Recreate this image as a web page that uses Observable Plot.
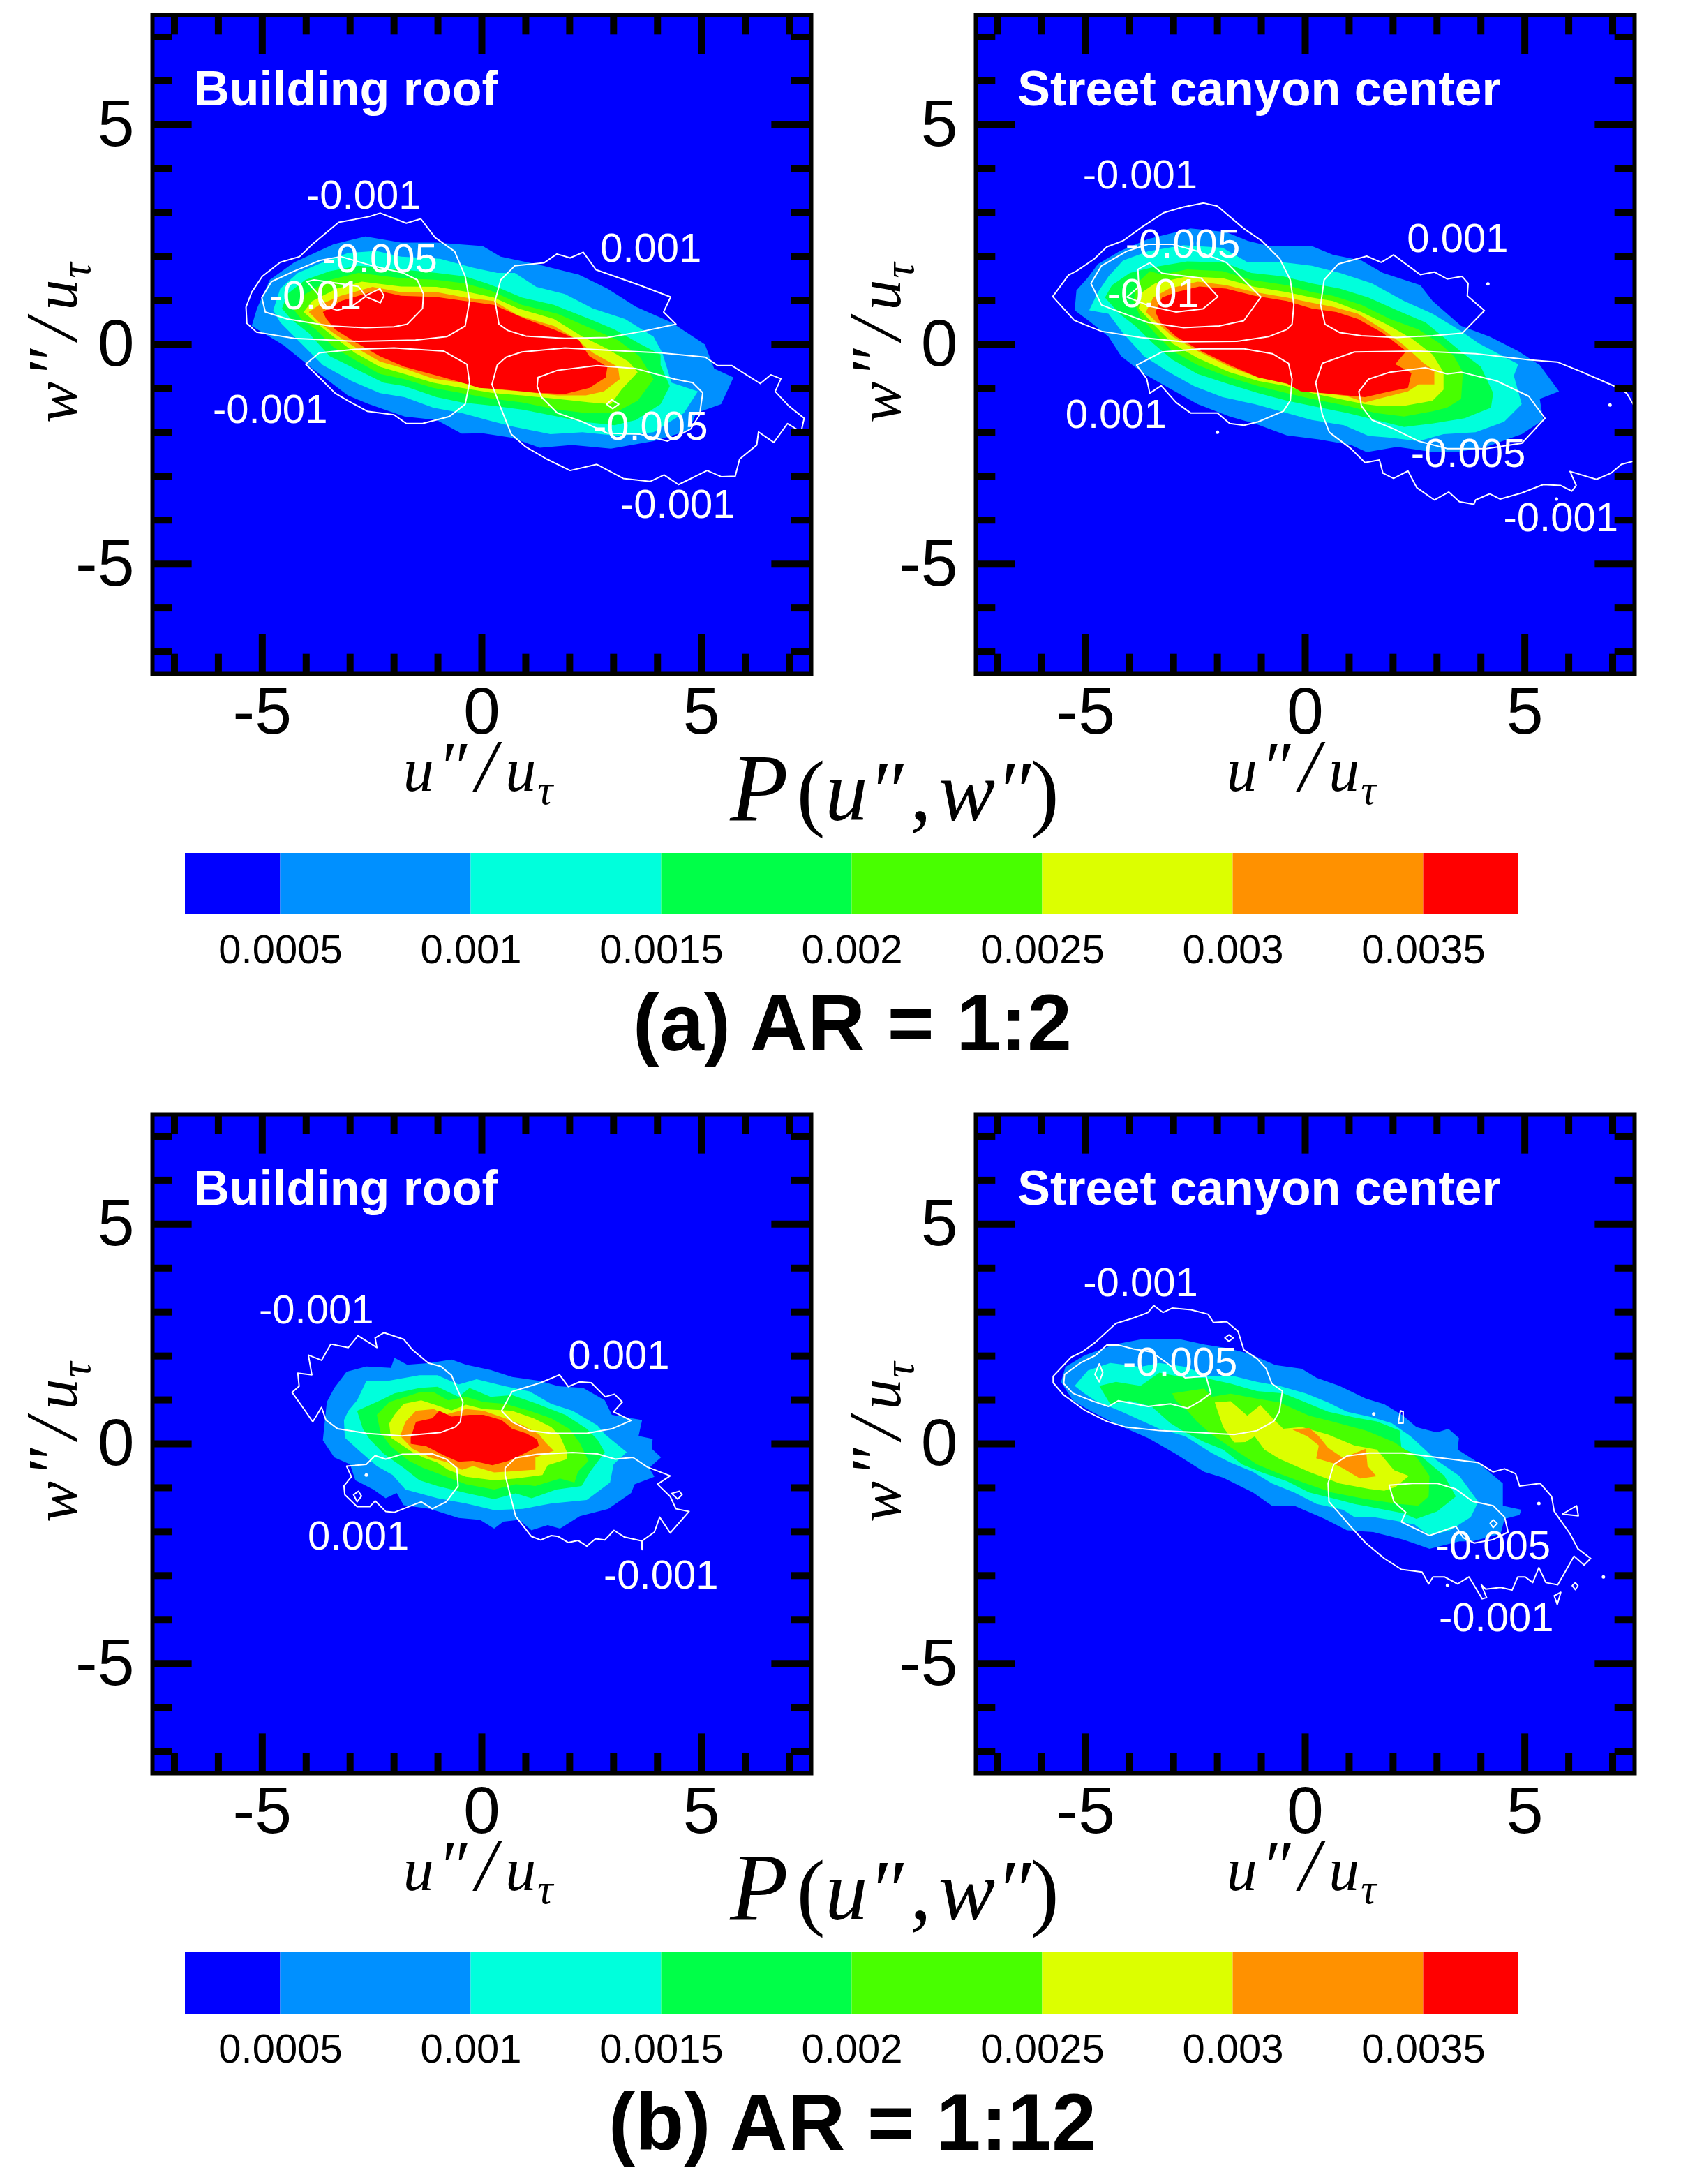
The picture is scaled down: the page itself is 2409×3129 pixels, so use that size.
<!DOCTYPE html>
<html>
<head>
<meta charset="utf-8">
<script src="https://cdn.jsdelivr.net/npm/d3@7"></script>
<script src="https://cdn.jsdelivr.net/npm/@observablehq/plot@0.6"></script>
<style>
  html, body { margin: 0; background: white; }
  #page { position: relative; width: 2409px; height: 3129px; overflow: hidden; font-family: "Liberation Sans", sans-serif; color: black; }
  #page > div { position: absolute; }
  .math { font-family: "Liberation Serif", serif; white-space: nowrap; text-align: center; }
  .math sub { font-size: 70%; line-height: 0; margin-left: 2px; }
  .math .pr { font-size: 115%; margin-left: 5px; line-height: 0; }
  .math .sl { font-size: 120%; margin: 0 13px; line-height: 0; }
  .caption { left: 0; width: 2443px; text-align: center; font-weight: bold; font-size: 114.5px; line-height: 112px; }
</style>
</head>
<body>
<div id="page"></div>
<script>
// colour levels of P(u'',w'')
const levels = [0.00025, 0.0005, 0.001, 0.0015, 0.002, 0.0025, 0.003, 0.0035, 0.00375];
const levelColors = ["#0000ff", "#0090ff", "#00ffdc", "#00ff48", "#48ff00", "#dcff00", "#ff9100", "#ff0000"];
const barTicks = [0.0005, 0.001, 0.0015, 0.002, 0.0025, 0.003, 0.0035];
const majorTicks = [-5, 0, 5];
const minorTicks = [-7, -6, -4, -3, -2, -1, 1, 2, 3, 4, 6, 7];

// (a) AR = 1:2, building roof
const aRoof1 = [[-5.24,0.42],[-5.12,0.82],[-4.83,1.47],[-4.27,1.87],[-3.38,2.28],[-2.65,2.46],[-1.84,2.32],[-1.03,2.32],[0.02,2.24],[0.43,2.0],[1.24,1.83],[2.21,1.59],[2.86,1.27],[3.51,0.86],[4.32,0.5],[5.08,0],[5.29,-0.55],[5.73,-0.75],[5.45,-1.36],[4.88,-1.56],[4.72,-1.96],[3.91,-2.2],[2.94,-2.37],[2.05,-2.29],[1.32,-2.35],[0.67,-2.12],[0.02,-2.02],[-0.46,-2.03],[-1.03,-1.72],[-1.76,-1.64],[-2.57,-1.36],[-3.05,-1.16],[-3.86,-0.55],[-4.51,-0.02]];
const aRoof2 = [[-4.75,0.78],[-4.59,1.27],[-4.19,1.63],[-3.62,1.87],[-3.05,2.08],[-2.4,2.13],[-1.84,2.0],[-0.95,1.95],[-0.22,1.75],[0.35,1.63],[0.75,1.63],[1.24,1.31],[1.89,1.15],[2.53,0.82],[3.26,0.58],[3.91,0.18],[4.11,-0.19],[4.32,-0.87],[4.92,-1.07],[4.6,-1.56],[3.91,-2.0],[3.1,-2.08],[2.29,-2.0],[1.56,-2.04],[0.75,-1.88],[0.27,-1.76],[-0.46,-1.56],[-1.11,-1.44],[-1.76,-1.2],[-2.32,-1.11],[-2.97,-0.83],[-3.62,-0.47],[-4.19,0.1],[-4.59,0.5]];
const aRoof3 = [[-4.55,0.82],[-4.43,1.15],[-4.02,1.47],[-3.46,1.67],[-2.81,1.79],[-1.84,1.71],[-1.03,1.63],[-0.38,1.55],[0.11,1.39],[0.43,1.27],[0.91,1.07],[1.64,0.9],[2.45,0.58],[3.02,0.34],[3.59,0.02],[4.07,-0.23],[4.07,-0.47],[4.28,-0.95],[4.07,-1.36],[3.51,-1.72],[3.02,-1.84],[2.29,-1.76],[1.72,-1.64],[0.91,-1.48],[0.27,-1.4],[-0.46,-1.32],[-1.03,-1.2],[-1.76,-0.95],[-2.24,-0.87],[-2.89,-0.55],[-3.46,-0.27],[-3.94,0.26],[-4.35,0.58]];
const aRoof4 = [[-4.27,0.78],[-4.02,1.15],[-3.46,1.47],[-2.81,1.63],[-1.84,1.51],[-1.03,1.47],[-0.38,1.39],[0.19,1.23],[0.91,0.9],[1.72,0.7],[2.45,0.38],[3.1,0.1],[3.59,-0.27],[3.91,-0.79],[3.55,-1.28],[3.02,-1.56],[2.37,-1.56],[1.72,-1.48],[0.91,-1.32],[0.27,-1.24],[-0.46,-1.11],[-1.11,-0.99],[-1.76,-0.79],[-2.32,-0.67],[-2.89,-0.35],[-3.38,-0.06],[-3.78,0.34],[-4.11,0.58]];
const aRoof5 = [[-4.06,0.74],[-3.86,0.99],[-3.3,1.27],[-2.73,1.43],[-1.84,1.32],[-1.03,1.31],[-0.3,1.19],[0.27,1.07],[0.83,0.82],[1.64,0.58],[2.29,0.18],[2.86,-0.1],[3.34,-0.39],[3.55,-0.63],[3.18,-1.03],[2.94,-1.36],[2.45,-1.32],[1.72,-1.24],[0.91,-1.16],[0.27,-1.11],[-0.46,-0.99],[-1.11,-0.87],[-1.76,-0.67],[-2.32,-0.51],[-2.89,-0.19],[-3.38,0.18],[-3.78,0.5]];
const aRoof6 = [[-3.94,0.74],[-3.7,0.9],[-3.21,1.11],[-2.49,1.31],[-1.84,1.19],[-1.03,1.19],[-0.38,1.07],[0.27,0.99],[0.83,0.66],[1.64,0.42],[2.13,0.14],[2.53,-0.19],[3.1,-0.51],[3.14,-0.79],[2.78,-1.07],[2.37,-1.16],[1.72,-1.16],[0.91,-1.07],[0.27,-1.02],[-0.46,-0.87],[-1.11,-0.78],[-1.76,-0.55],[-2.32,-0.39],[-2.89,-0.06],[-3.38,0.26],[-3.7,0.5]];
const aRoof7 = [[-3.62,0.74],[-3.21,0.99],[-2.4,1.23],[-1.84,1.11],[-1.03,1.08],[-0.38,0.99],[0.27,0.9],[1.0,0.58],[1.64,0.34],[2.21,0.1],[2.45,-0.27],[2.86,-0.51],[2.82,-0.75],[2.45,-0.99],[1.89,-1.13],[1.24,-1.1],[0.43,-1.02],[-0.06,-0.99],[-0.38,-0.89],[-0.87,-0.75],[-1.76,-0.51],[-2.32,-0.27],[-2.89,0.06],[-3.34,0.34],[-3.54,0.58]];
const aRoofLine1 = [[-0.38,0.42],[-0.28,0.99],[-0.38,1.55],[-0.62,2.12],[-1.07,2.44],[-1.39,2.86],[-1.72,2.76],[-2.31,2.99],[-2.57,2.91],[-3.26,2.78],[-3.86,2.28],[-4.15,2.0],[-4.59,1.87],[-5.0,1.55],[-5.24,1.19],[-5.37,0.85],[-5.35,0.48],[-5.13,0.28],[-4.27,0.14],[-2.81,0.07],[-1.51,0.1],[-0.79,0.18]];
const aRoofLine2 = [[-2.0,0.4],[-1.7,0.46],[-1.35,0.82],[-1.33,1.15],[-1.47,1.47],[-1.8,1.63],[-2.49,1.79],[-3.21,2.0],[-3.7,1.91],[-4.27,1.67],[-4.79,1.43],[-5.01,1.07],[-4.93,0.74],[-4.43,0.58],[-3.46,0.42],[-2.65,0.38]];
const aRoofLine3 = [[-3.98,1.43],[-3.82,1.47],[-3.26,1.39],[-2.81,1.32],[-2.65,1.11],[-2.32,1.27],[-2.23,1.11],[-2.31,0.95],[-2.65,1.09],[-2.97,0.86],[-3.3,0.78],[-3.54,0.86],[-3.7,1.11]];
const aRoofLine4 = [[-4.01,-0.45],[-3.7,-0.19],[-2.89,-0.11],[-2.0,-0.08],[-0.87,-0.15],[-0.34,-0.45],[-0.28,-0.87],[-0.38,-1.36],[-0.74,-1.64],[-1.35,-1.8],[-1.72,-1.8],[-2.0,-1.6],[-2.61,-1.52],[-3.05,-1.28],[-3.34,-1.11],[-3.66,-0.79]];
const aRoofLine5 = [[0.39,0.46],[0.3,0.99],[0.43,1.47],[0.75,1.79],[1.42,1.86],[1.71,2.06],[2.01,1.97],[2.31,2.1],[2.6,1.7],[3.59,1.35],[4.3,1.08],[4.14,0.74],[4.42,0.46],[3.67,0.3],[2.86,0.16],[1.89,0.14],[1.0,0.19],[0.59,0.32]];
const aRoofLine6 = [[0.35,-0.47],[0.23,-0.91],[0.43,-1.44],[0.67,-2.04],[1.0,-2.33],[1.48,-2.61],[2.01,-2.87],[2.62,-2.73],[3.22,-3.05],[3.83,-3.12],[4.15,-2.97],[4.48,-3.19],[5.13,-2.87],[5.45,-3.01],[5.77,-3.0],[5.87,-2.61],[6.26,-2.29],[6.3,-1.99],[6.65,-2.23],[6.96,-1.8],[7.27,-1.99],[7.34,-1.68],[6.99,-1.4],[6.68,-1.07],[6.81,-0.78],[6.58,-0.69],[6.34,-0.89],[5.69,-0.48],[5.37,-0.48],[5.09,-0.29],[4.07,-0.19],[2.86,-0.13],[1.89,-0.08],[0.91,-0.17],[0.55,-0.29]];
const aRoofLine7 = [[1.28,-0.75],[1.72,-0.59],[2.62,-0.48],[3.51,-0.55],[4.4,-0.79],[4.8,-0.87],[5.03,-1.1],[4.96,-1.6],[4.76,-1.92],[4.23,-2.2],[3.59,-2.04],[2.86,-2.02],[2.29,-1.76],[1.72,-1.56],[1.36,-1.2],[1.26,-0.95]];
const aRoofLine8 = [[2.84,-1.36],[2.96,-1.26],[3.12,-1.36],[2.98,-1.46]];
const aRoofLabels = [[-2.69,3.39,"-0.001"],[-2.32,1.94,"-0.005"],[-3.79,1.09,"-0.01"],[3.85,2.18,"0.001"],[-4.82,-1.49,"-0.001"],[3.84,-1.88,"-0.005"],[4.46,-3.66,"-0.001"]];

// (a) AR = 1:2, street canyon center
const aCanyon1 = [[-5.25,0.78],[-5.21,1.23],[-4.96,1.51],[-4.72,1.83],[-4.23,2.12],[-3.58,2.4],[-2.61,2.64],[-1.8,2.56],[-1.31,2.36],[-0.83,2.24],[0.15,2.24],[0.63,2.04],[1.28,1.91],[1.77,1.63],[2.62,1.35],[2.9,0.99],[3.55,0.42],[4.2,0.18],[4.85,-0.15],[5.34,-0.47],[5.78,-1.07],[5.34,-1.24],[5.42,-1.72],[4.93,-2.04],[4.12,-2.33],[3.47,-2.45],[2.9,-2.45],[2.09,-2.33],[1.4,-2.45],[1.04,-2.29],[0.31,-2.16],[-0.42,-2.07],[-1.15,-1.8],[-1.72,-1.64],[-2.45,-1.36],[-3.18,-0.95],[-3.67,-0.67],[-4.19,-0.27],[-4.48,0.18],[-4.88,0.5]];
const aCanyon2 = [[-4.92,0.78],[-4.72,1.19],[-4.48,1.55],[-4.15,1.91],[-3.58,2.12],[-2.77,2.26],[-1.88,2.2],[-1.31,1.87],[-0.5,1.87],[0.15,1.79],[0.79,1.63],[1.52,1.39],[2.25,0.99],[2.9,0.7],[3.55,0.3],[3.96,0.02],[4.85,-0.45],[4.75,-0.71],[4.93,-1.36],[4.53,-1.76],[3.88,-2.0],[3.15,-2.04],[2.58,-2.2],[1.93,-2.12],[1.44,-2.08],[0.88,-1.84],[0.15,-1.72],[-0.42,-1.56],[-1.15,-1.36],[-1.88,-1.2],[-2.53,-0.95],[-3.1,-0.63],[-3.67,-0.27],[-4.15,0.26],[-4.48,0.7]];
const aCanyon3 = [[-4.56,1.07],[-4.4,1.35],[-3.99,1.63],[-3.5,1.75],[-2.69,1.89],[-1.88,1.87],[-1.23,1.63],[-0.5,1.55],[0.15,1.39],[0.79,1.27],[1.44,1.07],[2.09,0.78],[2.74,0.5],[3.23,0.1],[3.63,-0.23],[4.0,-0.51],[4.28,-1.11],[4.23,-1.44],[3.63,-1.68],[2.9,-1.8],[2.25,-1.88],[1.61,-1.72],[0.96,-1.56],[0.15,-1.4],[-0.42,-1.28],[-1.07,-1.11],[-1.72,-0.91],[-2.45,-0.67],[-3.02,-0.35],[-3.46,0.02],[-3.87,0.42],[-4.23,0.7]];
const aCanyon4 = [[-3.91,0.99],[-3.83,1.39],[-3.54,1.67],[-3.26,1.59],[-2.69,1.71],[-1.88,1.67],[-1.23,1.47],[-0.42,1.35],[0.15,1.19],[0.63,1.11],[1.28,0.9],[1.93,0.58],[2.58,0.34],[3.07,0.02],[3.39,-0.27],[3.59,-0.63],[3.55,-1.24],[3.23,-1.44],[2.9,-1.52],[2.25,-1.64],[1.61,-1.56],[0.96,-1.4],[0.15,-1.24],[-0.42,-1.11],[-1.07,-0.95],[-1.72,-0.75],[-2.45,-0.47],[-3.02,-0.15],[-3.42,0.26],[-3.75,0.62]];
const aCanyon5 = [[-3.79,0.82],[-3.71,1.19],[-3.42,1.39],[-2.69,1.55],[-1.88,1.51],[-1.15,1.31],[-0.42,1.19],[0.15,1.07],[0.63,0.99],[1.28,0.74],[1.85,0.46],[2.42,0.14],[2.9,-0.23],[3.15,-0.63],[3.15,-1.03],[2.9,-1.28],[2.25,-1.4],[1.69,-1.4],[1.36,-1.36],[0.96,-1.28],[0.15,-1.11],[-0.42,-0.95],[-1.07,-0.83],[-1.72,-0.63],[-2.45,-0.31],[-3.02,0.02],[-3.42,0.42]];
const aCanyon6 = [[-3.63,0.74],[-3.46,1.07],[-3.1,1.27],[-2.45,1.43],[-1.8,1.35],[-1.15,1.19],[-0.42,1.07],[0.15,0.95],[0.63,0.86],[1.2,0.7],[1.77,0.34],[2.25,-0.02],[2.7,-0.43],[2.94,-0.59],[2.94,-0.91],[2.58,-0.91],[2.34,-1.07],[1.77,-1.21],[1.36,-1.32],[0.96,-1.18],[0.15,-1.07],[-0.34,-0.91],[-1.07,-0.75],[-1.72,-0.51],[-2.45,-0.15],[-3.02,0.18],[-3.38,0.5]];
const aCanyon7 = [[-3.41,0.74],[-3.26,1.07],[-2.94,1.19],[-2.41,1.32],[-1.8,1.27],[-1.15,1.11],[-0.42,0.99],[0.15,0.82],[0.71,0.74],[1.2,0.58],[1.77,0.26],[2.3,-0.15],[2.05,-0.45],[2.42,-0.65],[2.34,-0.99],[1.93,-1.07],[1.36,-1.2],[0.63,-1.13],[-0.1,-1.07],[-0.42,-0.89],[-1.07,-0.75],[-1.72,-0.47],[-2.37,-0.15],[-2.94,0.18],[-3.3,0.5]];
const aCanyonLine1 = [[-0.3,0.46],[-0.26,0.9],[-0.34,1.47],[-0.58,1.95],[-0.99,2.36],[-1.4,2.64],[-2.0,3.15],[-2.31,3.22],[-2.77,3.13],[-3.22,3.0],[-3.71,2.68],[-4.15,2.36],[-4.52,2.22],[-4.8,1.95],[-5.21,1.67],[-5.39,1.58],[-5.75,1.09],[-5.26,0.55],[-5.04,0.46],[-4.64,0.3],[-3.75,0.16],[-2.77,0.06],[-1.56,0.07],[-0.83,0.18],[-0.42,0.34]];
const aCanyonLine2 = [[-1.01,1.08],[-1.4,0.54],[-1.96,0.42],[-2.77,0.38],[-3.58,0.5],[-4.23,0.74],[-4.64,0.9],[-4.88,1.39],[-4.64,1.79],[-4.07,2.12],[-3.58,2.28],[-3.02,2.28],[-2.45,2.12],[-1.8,1.87],[-1.4,1.47]];
const aCanyonLine3 = [[-1.99,1.09],[-2.33,0.81],[-2.94,0.74],[-3.5,0.86],[-4.06,1.08],[-3.79,1.31],[-3.81,1.71],[-3.54,1.86],[-3.26,1.62],[-2.37,1.51]];
const aCanyonLine4 = [[-3.84,-0.47],[-3.26,-0.17],[-2.37,-0.1],[-1.39,-0.1],[-0.75,-0.21],[-0.38,-0.43],[-0.3,-0.79],[-0.34,-1.28],[-0.5,-1.52],[-1.07,-1.76],[-1.39,-1.84],[-1.72,-1.8],[-2.0,-1.56],[-2.61,-1.56],[-2.94,-1.32],[-3.28,-0.94],[-3.54,-1.11],[-3.61,-0.78]];
const aCanyonLine5 = [[0.45,0.46],[0.35,0.9],[0.43,1.47],[0.75,1.83],[1.4,2.01],[1.73,1.87],[2.01,2.04],[2.62,1.59],[2.94,1.65],[3.23,1.49],[3.57,1.55],[3.71,1.39],[3.69,1.11],[4.08,0.77],[3.58,0.26],[2.9,0.2],[2.09,0.16],[1.28,0.2],[0.79,0.27]];
const aCanyonLine6 = [[1.22,-1.07],[1.44,-0.79],[1.93,-0.63],[2.74,-0.53],[3.23,-0.67],[3.55,-0.63],[4.36,-0.83],[5.09,-1.18],[5.46,-1.68],[4.93,-2.25],[4.12,-2.37],[3.23,-2.37],[2.58,-2.2],[2.01,-1.92],[1.52,-1.72],[1.28,-1.4]];
const aCanyonOpen = [[7.49,-1.4],[7.32,-1.11],[7.04,-0.95],[6.31,-0.63],[5.74,-0.4],[5.09,-0.35],[3.88,-0.21],[2.5,-0.15],[1.12,-0.17],[0.39,-0.43],[0.24,-0.87],[0.39,-1.6],[0.55,-2.0],[1.04,-2.37],[1.36,-2.69],[1.69,-2.63],[1.77,-2.93],[2.01,-3.05],[2.34,-2.88],[2.54,-3.26],[2.94,-3.54],[3.27,-3.36],[3.51,-3.58],[3.84,-3.64],[3.88,-3.54],[4.2,-3.4],[4.44,-3.52],[4.93,-3.38],[5.42,-3.19],[5.82,-3.21],[6.07,-3.34],[6.17,-3.21],[6.03,-2.89],[6.63,-3.07],[6.96,-2.93],[7.2,-2.73],[7.51,-2.65]];
const aCanyonLabels = [[-3.76,3.85,"-0.001"],[-2.79,2.28,"-0.005"],[-3.46,1.15,"-0.01"],[3.47,2.4,"0.001"],[-4.31,-1.61,"0.001"],[3.71,-2.49,"-0.005"],[5.82,-3.96,"-0.001"]];
const aCanyonSpecks = [[-2.0,-2.0],[4.16,1.38],[6.94,-1.38],[5.72,-3.52]];

// (b) AR = 1:12, building roof
const bRoof1 = [[-3.62,0.08],[-3.53,0.95],[-3.36,1.27],[-3.08,1.64],[-2.63,1.76],[-2.07,1.73],[-1.99,1.96],[-1.7,1.8],[-1.18,1.84],[-0.69,1.92],[-0.36,1.8],[0.2,1.68],[0.69,1.52],[1.34,1.43],[1.74,1.31],[2.31,1.27],[2.8,0.99],[2.96,0.66],[3.65,0.54],[3.57,0.18],[3.89,0.11],[3.87,-0.11],[4.08,-0.31],[3.81,-0.55],[3.93,-0.75],[3.48,-0.92],[3.4,-1.12],[2.88,-1.48],[2.23,-1.65],[1.78,-1.93],[1.5,-1.85],[1.13,-1.97],[0.85,-1.73],[0.49,-1.77],[0.28,-1.93],[-0.04,-1.73],[-0.53,-1.69],[-1.18,-1.48],[-1.78,-1.4],[-1.94,-1.12],[-2.19,-1.24],[-2.47,-1.04],[-2.88,-0.83],[-3.0,-0.47],[-3.36,-0.31]];
const bRoof2 = [[-3.14,0.54],[-3.04,0.75],[-2.84,0.99],[-2.63,1.43],[-2.15,1.43],[-1.42,1.56],[-1.01,1.56],[-0.53,1.35],[-0.12,1.47],[0.53,1.31],[1.09,1.19],[1.58,0.91],[2.07,0.75],[2.63,0.42],[2.8,0.22],[3.3,-0.19],[3.0,-0.47],[2.92,-0.88],[2.39,-1.28],[1.58,-1.36],[0.93,-1.48],[0.28,-1.51],[-0.36,-1.36],[-1.01,-1.24],[-1.74,-1.04],[-2.03,-0.71],[-2.39,-0.51],[-2.8,-0.15],[-3.12,0.14]];
const bRoof3 = [[-2.84,0.75],[-2.31,0.99],[-1.99,1.15],[-1.42,1.27],[-1.01,1.3],[-0.53,1.07],[-0.28,1.27],[0.2,1.07],[0.69,1.11],[1.26,0.91],[1.9,0.66],[2.39,0.34],[2.63,0.1],[2.8,-0.19],[2.47,-0.63],[2.27,-0.96],[1.7,-1.04],[1.13,-1.24],[0.77,-1.13],[0.28,-1.26],[-0.36,-1.12],[-1.01,-0.96],[-1.42,-0.83],[-1.78,-0.55],[-2.23,-0.23],[-2.55,0.1],[-2.71,0.34]];
const bRoof4 = [[-2.39,0.66],[-2.11,0.95],[-1.74,1.07],[-1.42,1.17],[-1.09,1.17],[-0.77,0.99],[-0.36,1.07],[0.04,0.95],[0.53,0.91],[1.09,0.75],[1.58,0.58],[1.99,0.34],[2.23,0.02],[2.43,-0.39],[2.19,-0.63],[2.11,-0.88],[1.78,-0.79],[1.22,-0.96],[0.77,-0.92],[0.28,-1.04],[-0.36,-0.92],[-1.01,-0.67],[-1.34,-0.55],[-1.66,-0.39],[-2.07,-0.06],[-2.31,0.26]];
const bRoof5 = [[-2.11,0.46],[-1.99,0.66],[-1.78,0.91],[-1.38,0.99],[-1.01,0.87],[-0.69,0.76],[-0.36,0.89],[0.04,0.79],[0.69,0.75],[1.18,0.58],[1.58,0.38],[1.78,0.18],[1.94,-0.19],[1.94,-0.35],[1.5,-0.49],[1.38,-0.71],[0.77,-0.79],[0.28,-0.83],[-0.36,-0.75],[-0.77,-0.59],[-1.01,-0.43],[-1.34,-0.31],[-1.58,-0.19],[-2.07,0.14]];
const bRoof6 = [[-1.86,0.18],[-1.74,0.5],[-1.5,0.75],[-1.09,0.79],[-0.85,0.66],[-0.36,0.79],[0.04,0.75],[0.53,0.58],[0.93,0.42],[1.3,0.22],[1.46,0.02],[1.64,-0.16],[1.22,-0.31],[1.22,-0.59],[0.61,-0.63],[0.28,-0.65],[-0.2,-0.51],[-0.45,-0.59],[-0.77,-0.43],[-1.18,-0.31],[-1.58,-0.11]];
const bRoof7 = [[-1.62,0.14],[-1.5,0.5],[-1.13,0.58],[-0.97,0.75],[-0.69,0.62],[-0.28,0.66],[0.04,0.66],[0.45,0.54],[0.69,0.34],[1.01,0.24],[1.26,0.1],[1.3,-0.05],[0.93,-0.24],[0.61,-0.39],[0.24,-0.49],[-0.2,-0.39],[-0.53,-0.41],[-0.85,-0.27],[-1.26,-0.06],[-1.62,0]];
const bRoofLine1 = [[-0.49,0.5],[-0.43,0.95],[-0.57,1.27],[-0.69,1.56],[-0.93,1.76],[-1.22,1.84],[-1.58,2.14],[-1.78,2.38],[-2.23,2.53],[-2.43,2.41],[-2.39,2.19],[-2.82,2.46],[-3.04,2.19],[-3.44,2.27],[-3.65,1.9],[-3.95,2.02],[-3.87,1.57],[-4.19,1.61],[-4.16,1.31],[-4.32,1.17],[-4.05,0.79],[-3.85,0.5],[-3.65,0.83],[-3.55,0.54],[-3.28,0.34],[-2.63,0.24],[-1.82,0.18],[-0.93,0.26],[-0.61,0.38]];
const bRoofLine2 = [[-3.08,-0.51],[-2.63,-0.47],[-2.43,-0.27],[-2.19,-0.35],[-1.82,-0.24],[-1.13,-0.23],[-0.81,-0.35],[-0.57,-0.55],[-0.54,-0.96],[-0.81,-1.32],[-1.13,-1.48],[-1.38,-1.32],[-1.99,-1.56],[-2.19,-1.54],[-2.43,-1.3],[-2.55,-1.43],[-2.84,-1.43],[-3.12,-1.16],[-3.14,-0.96],[-2.97,-0.75]];
const bRoofLine3 = [[-2.92,-1.16],[-2.81,-1.08],[-2.74,-1.19],[-2.84,-1.32]];
const bRoofLine4 = [[0.45,0.75],[0.69,1.19],[1.34,1.39],[1.77,1.57],[1.97,1.3],[2.23,1.41],[2.49,1.39],[2.81,1.07],[3.02,1.13],[3.2,0.95],[3.0,0.73],[3.4,0.53],[2.96,0.34],[2.39,0.24],[1.58,0.24],[1.09,0.3],[0.69,0.5]];
const bRoofLine5 = [[0.53,-0.55],[0.77,-0.32],[1.26,-0.24],[2.07,-0.2],[2.63,-0.23],[3.04,-0.35],[3.44,-0.31],[3.77,-0.53],[4.29,-0.73],[4.0,-0.92],[4.29,-1.2],[4.42,-1.48],[4.72,-1.54],[4.29,-2.03],[4.05,-1.67],[3.93,-2.01],[3.65,-2.21],[3.65,-2.41],[3.63,-2.21],[3.24,-2.12],[3.01,-1.97],[2.8,-2.19],[2.59,-2.16],[2.39,-2.33],[2.19,-2.2],[1.97,-2.25],[1.74,-2.11],[1.58,-2.09],[1.34,-2.19],[1.13,-2.11],[0.77,-1.65],[0.53,-0.71]];
const bRoofLine6 = [[4.32,-1.13],[4.5,-1.08],[4.56,-1.16],[4.46,-1.26]];
const bRoofLabels = [[-3.77,3.03,"-0.001"],[3.12,2.0,"0.001"],[-2.81,-2.11,"0.001"],[4.08,-3.0,"-0.001"]];
const bRoofSpecks = [[-2.63,-0.71]];

// (b) AR = 1:12, street canyon center
const bCanyon1 = [[-5.56,1.41],[-5.46,1.75],[-5.03,2.01],[-4.35,2.26],[-3.67,2.39],[-2.9,2.39],[-2.3,2.26],[-1.79,2.18],[-1.27,2.05],[-0.68,1.79],[-0.08,1.71],[0.26,1.5],[0.78,1.32],[1.38,1.03],[1.8,0.9],[2.23,0.64],[2.53,0.38],[3.0,0.26],[3.26,0.34],[3.5,0.13],[3.47,-0.13],[3.94,-0.43],[4.5,-0.9],[4.5,-1.41],[4.92,-1.5],[4.88,-1.62],[4.54,-1.71],[4.45,-2.05],[3.81,-2.22],[3.51,-2.22],[2.83,-2.39],[2.23,-2.18],[1.55,-2.01],[0.95,-1.97],[0.44,-1.71],[-0.25,-1.41],[-0.76,-1.41],[-1.19,-1.11],[-1.87,-0.77],[-2.3,-0.64],[-2.98,-0.21],[-3.58,0.13],[-4.35,0.47],[-4.86,0.73],[-5.29,0.98]];
const bCanyon2 = [[-5.25,1.32],[-4.95,1.67],[-4.44,1.84],[-3.75,1.75],[-3.32,1.84],[-2.73,1.75],[-2.21,1.54],[-1.62,1.54],[-1.1,1.41],[-0.59,1.32],[0.01,1.15],[0.52,0.94],[0.95,0.73],[1.54,0.6],[1.97,0.47],[2.4,0.17],[3.0,-0.38],[3.51,-0.73],[3.94,-1.32],[3.77,-1.67],[3.3,-1.97],[2.83,-2.09],[2.49,-1.84],[2.06,-1.75],[1.55,-1.67],[1.12,-1.67],[0.86,-1.5],[0.26,-1.37],[-0.25,-1.11],[-0.76,-0.9],[-1.19,-0.64],[-1.7,-0.43],[-2.13,-0.21],[-2.73,0.17],[-3.32,0.34],[-4.18,0.73],[-4.78,0.98],[-5.03,1.15]];
const bCanyon3 = [[-4.69,1.32],[-4.31,1.41],[-3.75,1.32],[-3.32,1.62],[-2.73,1.5],[-2.3,1.5],[-1.7,1.37],[-1.1,1.2],[-0.5,1.15],[0.01,0.94],[0.52,0.73],[1.12,0.6],[1.63,0.51],[2.15,0.3],[2.19,-0.09],[2.66,-0.3],[3.17,-0.73],[3.43,-1.2],[3.0,-1.54],[2.53,-1.71],[2.23,-1.58],[1.55,-1.45],[1.12,-1.37],[0.78,-1.28],[0.09,-1.11],[-0.42,-0.85],[-1.02,-0.64],[-1.44,-0.47],[-1.87,-0.13],[-2.3,0.04],[-2.73,0.26],[-3.07,0.47],[-3.5,0.85],[-4.01,0.98],[-4.44,0.9]];
const bCanyon4 = [[-3.03,1.15],[-2.3,1.26],[-2.13,1.07],[-1.7,1.14],[-1.1,1.03],[-0.59,0.94],[0.09,0.64],[0.61,0.51],[1.38,0.3],[2.02,0.04],[2.53,-0.3],[2.83,-0.73],[2.81,-1.2],[2.57,-1.41],[2.15,-1.37],[1.38,-1.26],[0.61,-1.11],[0.01,-0.9],[-0.59,-0.68],[-1.1,-0.47],[-1.62,-0.13],[-2.13,0.21],[-2.47,0.51],[-2.73,0.81],[-2.94,0.97]];
const bCanyon5 = [[-2.06,0.94],[-1.7,0.97],[-1.32,0.64],[-1.02,0.88],[-0.76,0.6],[-0.5,0.34],[-0.08,0.38],[0.52,0.21],[1.12,-0.04],[1.63,-0.13],[2.02,-0.6],[2.36,-0.73],[2.06,-0.98],[1.8,-1.07],[1.46,-1.03],[0.78,-0.9],[0.09,-0.64],[-0.59,-0.34],[-0.93,-0.13],[-1.15,0.17],[-1.36,0.04],[-1.62,0.03],[-1.87,0.38]];
const bCanyon6 = [[-0.29,0.32],[0.09,0.36],[0.31,0.17],[0.52,-0.09],[0.86,-0.32],[1.38,-0.11],[1.42,-0.51],[1.62,-0.74],[1.25,-0.79],[0.86,-0.56],[0.65,-0.45],[0.25,-0.33],[0.31,-0.04],[0.05,0.17]];
const bCanyonLine1 = [[-0.52,1.2],[-0.76,1.37],[-0.89,1.71],[-1.1,1.94],[-1.4,2.14],[-1.53,2.56],[-1.79,2.78],[-2.09,2.76],[-2.21,2.95],[-2.6,3.05],[-3.03,3.09],[-3.24,2.99],[-3.45,3.15],[-3.58,2.99],[-3.92,2.86],[-4.31,2.74],[-4.78,2.31],[-5.08,2.09],[-5.33,1.97],[-5.74,1.54],[-5.74,1.39],[-5.5,1.11],[-5.03,0.77],[-4.52,0.51],[-4.09,0.38],[-3.32,0.3],[-2.47,0.26],[-1.62,0.21],[-1.1,0.3],[-0.72,0.51],[-0.59,0.73]];
const bCanyonLine2 = [[-2.26,1.54],[-2.15,1.15],[-2.38,0.98],[-2.68,0.81],[-3.07,0.91],[-3.58,0.85],[-4.26,0.98],[-4.48,0.85],[-4.86,0.98],[-5.29,1.15],[-5.5,1.37],[-5.48,1.58],[-5.12,1.84],[-4.78,2.01],[-4.52,2.25],[-4.26,2.25],[-3.92,2.16],[-3.5,2.09],[-3.15,1.84],[-2.73,1.5]];
const bCanyonLine3 = [[0.65,-0.47],[0.95,-0.28],[1.46,-0.21],[2.23,-0.21],[3.09,-0.32],[3.94,-0.43],[4.28,-0.64],[4.54,-0.57],[4.79,-0.68],[4.88,-0.96],[5.35,-0.9],[5.61,-1.2],[5.67,-1.54],[6.03,-2.05],[6.21,-2.39],[6.5,-2.61],[6.35,-2.76],[6.12,-2.56],[5.95,-2.86],[5.75,-3.21],[5.48,-3.16],[5.32,-2.82],[5.18,-3.16],[5.01,-3.03],[4.84,-3.03],[4.71,-3.33],[4.45,-3.27],[4.11,-3.31],[4.01,-3.21],[4.13,-3.5],[4.03,-3.53],[3.73,-3.03],[3.47,-3.19],[3.17,-3.03],[2.91,-3.03],[2.81,-3.19],[2.66,-2.92],[2.19,-2.86],[1.8,-2.61],[1.38,-2.26],[1.03,-1.88],[0.74,-1.54],[0.54,-1.32],[0.52,-0.9]];
const bCanyonLine4 = [[1.91,-0.94],[2.44,-0.9],[3.0,-0.9],[3.43,-1.03],[3.81,-1.31],[4.28,-1.41],[4.54,-1.67],[4.62,-2.01],[4.28,-2.18],[3.85,-2.26],[3.6,-2.14],[3.43,-1.88],[2.83,-2.09],[2.19,-1.78],[2.29,-1.56],[2.02,-1.32]];
const bCanyonLine5 = [[-4.69,1.82],[-4.61,1.62],[-4.69,1.41],[-4.79,1.58]];
const bCanyonLine6 = [[-1.83,2.41],[-1.74,2.48],[-1.64,2.41],[-1.74,2.33]];
const bCanyonLine7 = [[2.12,0.47],[2.17,0.75],[2.23,0.73],[2.23,0.47]];
const bCanyonLine8 = [[5.86,-1.6],[6.18,-1.41],[6.22,-1.64]];
const bCanyonLine9 = [[4.21,-1.81],[4.28,-1.73],[4.37,-1.81],[4.28,-1.91]];
const bCanyonLine10 = [[6.08,-3.23],[6.15,-3.16],[6.21,-3.23],[6.15,-3.32]];
const bCanyonLine11 = [[5.67,-3.46],[5.82,-3.38],[5.74,-3.66]];
const bCanyonLabels = [[-3.75,3.65,"-0.001"],[-2.85,1.84,"-0.005"],[4.28,-2.33,"-0.005"],[4.35,-3.97,"-0.001"]];
const bCanyonSpecks = [[1.56,0.68],[5.32,-1.36],[6.79,-3.03],[3.24,-3.22]];

const page = document.getElementById("page");
const mono = "Liberation Sans, sans-serif";

function place(node, left, top) {
  const d = document.createElement("div");
  d.style.left = left + "px";
  d.style.top = top + "px";
  d.append(node);
  page.append(d);
}

// one contour panel
function panel(left, top, title, bands, lines, openLines, labels, specks) {
  const marks = [Plot.frame({fill: levelColors[0], stroke: "none"})];
  bands.forEach((b, i) => {
    marks.push(Plot.line(b, {x: d => d[0], y: d => d[1], fill: levelColors[i + 1], stroke: "none", curve: "linear-closed"}));
  });
  lines.forEach(l => {
    marks.push(Plot.line(l, {x: d => d[0], y: d => d[1], stroke: "white", strokeWidth: 2, curve: "linear-closed", clip: true}));
  });
  openLines.forEach(l => {
    marks.push(Plot.line(l, {x: d => d[0], y: d => d[1], stroke: "white", strokeWidth: 2, clip: true}));
  });
  marks.push(Plot.dot(specks, {x: d => d[0], y: d => d[1], r: 2.5, fill: "white"}));
  marks.push(Plot.text(labels, {x: d => d[0], y: d => d[1], text: d => d[2], fill: "white", fontSize: 58, fontFamily: mono}));
  marks.push(Plot.text([title], {x: -6.55, y: 5.8, text: d => d, textAnchor: "start", fill: "white", fontSize: 70, fontWeight: "bold", fontFamily: mono}));
  // ticks point inwards on all four sides
  for (const [ticks, len] of [[majorTicks, 0.9], [minorTicks, 0.45]]) {
    marks.push(Plot.ruleX(ticks, {y1: -7.5, y2: -7.5 + len, stroke: "black", strokeWidth: 10}));
    marks.push(Plot.ruleX(ticks, {y1: 7.5, y2: 7.5 - len, stroke: "black", strokeWidth: 10}));
    marks.push(Plot.ruleY(ticks, {x1: -7.5, x2: -7.5 + len, stroke: "black", strokeWidth: 10}));
    marks.push(Plot.ruleY(ticks, {x1: 7.5, x2: 7.5 - len, stroke: "black", strokeWidth: 10}));
  }
  marks.push(Plot.frame({stroke: "black", strokeWidth: 6}));
  marks.push(Plot.axisX(majorTicks, {tickSize: 0, tickPadding: 18, tickFormat: String, label: null, fontSize: 95, fontFamily: mono}));
  marks.push(Plot.axisY(majorTicks, {tickSize: 0, tickPadding: 26, tickFormat: String, label: null, fontSize: 95, fontFamily: mono}));
  const chart = Plot.plot({
    width: 1165,
    height: 1076,
    marginLeft: 200,
    marginRight: 21,
    marginTop: 21,
    marginBottom: 111,
    x: {domain: [-7.5, 7.5]},
    y: {domain: [-7.5, 7.5]},
    style: {background: "none", color: "black", overflow: "visible"},
    marks
  });
  place(chart, left - 200, top - 21);
}

function colorbar(top) {
  const segs = levelColors.map((c, i) => ({x1: levels[i], x2: levels[i + 1], c}));
  const bar = Plot.plot({
    width: 1911,
    height: 180,
    marginLeft: 0,
    marginRight: 0,
    marginTop: 0,
    marginBottom: 92,
    x: {domain: [levels[0], levels[levels.length - 1]]},
    style: {background: "none", color: "black", overflow: "visible"},
    marks: [
      Plot.rectY(segs, {x1: "x1", x2: "x2", y1: 0, y2: 1, fill: "c"}),
      Plot.axisX(barTicks, {tickSize: 0, tickPadding: 28, tickFormat: String, label: null, fontSize: 58, fontFamily: mono}),
      Plot.axisY({ticks: []})
    ],
    color: {type: "identity"}
  });
  place(bar, 265, top);
}

function math(html, size, cx, baseline, rotate) {
  const d = document.createElement("div");
  d.className = "math";
  d.innerHTML = html;
  d.style.fontSize = size + "px";
  const box = Math.round(size * 0.7);
  d.style.width = "700px";
  d.style.height = box + "px";
  d.style.lineHeight = box + "px";
  const off = 0.3375 * size;
  if (rotate) {
    d.style.left = cx - off - 350 + "px";
    d.style.top = baseline - box / 2 + "px";
    d.style.transform = "rotate(-90deg)";
  } else {
    d.style.left = cx - 350 + "px";
    d.style.top = baseline - off - box / 2 + "px";
  }
  page.append(d);
}

const uLabel = '<i>u</i><i class="pr">&Prime;</i><i class="sl">/</i><i>u</i><sub><i>&tau;</i></sub>';
const wLabel = '<i>w</i><i class="pr">&Prime;</i><i class="sl">/</i><i>u</i><sub><i>&tau;</i></sub>';
const pLabel = '<i style="font-size:112%;margin-right:12px">P</i>(<i>u</i><i>&Prime;</i><span style="margin:0 10px">,</span><i>w</i><i>&Prime;</i>)';

function caption(text, top) {
  const d = document.createElement("div");
  d.className = "caption";
  d.style.top = top + "px";
  d.textContent = text;
  page.append(d);
}

const rowShift = 1575;
const colLeft = [218, 1398];

panel(colLeft[0], 21, "Building roof", [aRoof1, aRoof2, aRoof3, aRoof4, aRoof5, aRoof6, aRoof7],
  [aRoofLine1, aRoofLine2, aRoofLine3, aRoofLine4, aRoofLine5, aRoofLine6, aRoofLine7, aRoofLine8], [], aRoofLabels, []);
panel(colLeft[1], 21, "Street canyon center", [aCanyon1, aCanyon2, aCanyon3, aCanyon4, aCanyon5, aCanyon6, aCanyon7],
  [aCanyonLine1, aCanyonLine2, aCanyonLine3, aCanyonLine4, aCanyonLine5, aCanyonLine6], [aCanyonOpen], aCanyonLabels, aCanyonSpecks);
panel(colLeft[0], 21 + rowShift, "Building roof", [bRoof1, bRoof2, bRoof3, bRoof4, bRoof5, bRoof6, bRoof7],
  [bRoofLine1, bRoofLine2, bRoofLine3, bRoofLine4, bRoofLine5, bRoofLine6], [], bRoofLabels, bRoofSpecks);
panel(colLeft[1], 21 + rowShift, "Street canyon center", [bCanyon1, bCanyon2, bCanyon3, bCanyon4, bCanyon5, bCanyon6],
  [bCanyonLine1, bCanyonLine2, bCanyonLine3, bCanyonLine4, bCanyonLine5, bCanyonLine6, bCanyonLine7, bCanyonLine8, bCanyonLine9, bCanyonLine10, bCanyonLine11], [], bCanyonLabels, bCanyonSpecks);

for (const [i, text] of ["(a) AR = 1:2", "(b) AR = 1:12"].entries()) {
  const dy = i * rowShift;
  for (const left of colLeft) {
    math(uLabel, 88, left + 467, 1134 + dy, false);
    math(wLabel, 88, left - 107, 491 + dy, true);
  }
  math(pLabel, 122, 1282, 1171 + dy, false);
  colorbar(1222 + dy);
  caption(text, 1409 + dy);
}
</script>
</body>
</html>
